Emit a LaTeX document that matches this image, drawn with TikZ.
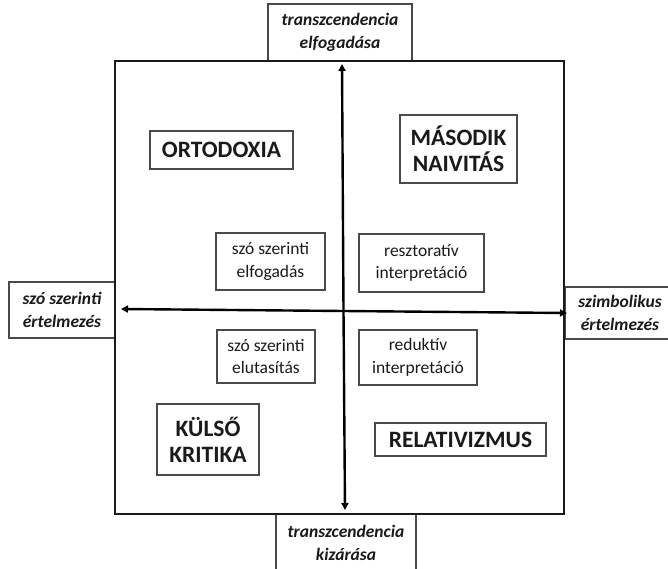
\documentclass[tikz,border=0pt]{standalone}
\usepackage{fontspec}
\setmainfont{Carlito}
\usetikzlibrary{arrows.meta}
\definecolor{boxgray}{HTML}{4A4A4A}
\definecolor{ink}{HTML}{1A1A1A}
\tikzset{
  quadbox/.style={draw=boxgray, line width=1.4pt, rectangle, align=center, inner sep=0pt, text=ink,
    font=\fontsize{23.5}{26}\selectfont\bfseries},
  smallbox/.style={draw=boxgray, line width=1.2pt, rectangle, align=center, inner sep=0pt, text=ink,
    font=\fontsize{17.5}{22.5}\selectfont},
  sidebox/.style={draw=boxgray, line width=1.3pt, rectangle, align=center, inner sep=0pt, text=ink,
    font=\fontsize{17.5}{23}\selectfont\bfseries\itshape},
  axis/.style={draw=black, line width=2.4pt, -{Triangle[length=7pt,width=7pt]}}
}
\begin{document}
\begin{tikzpicture}[x=1pt,y=-1pt]
\useasboundingbox (0,0) rectangle (668,569);
\fill[white] (0,0) rectangle (668,569);
% side label boxes (drawn first, square overlaps)
\node[sidebox, minimum width=144pt, minimum height=57pt] (top) at (340,32.5) {transzcendencia\\elfogadása};
\node[sidebox, minimum width=106pt, minimum height=56pt] (left) at (62,310) {szó szerinti\\értelmezés};
\node[sidebox, minimum width=110pt, minimum height=52pt] (right) at (620,313) {szimbolikus\\értelmezés};
\node[sidebox, minimum width=140pt, minimum height=57pt] (bottom) at (346,542.5) {transzcendencia\\kizárása};
% main square
\node[draw=ink, line width=2pt, rectangle, minimum width=449pt, minimum height=453pt, inner sep=0pt] (frame) at (339.5,287.5) {};
% quadrant labels
\node[quadbox, minimum width=143pt, minimum height=38pt] (orto) at (221.5,150) {ORTODOXIA};
\node[quadbox, minimum width=117pt, minimum height=68pt] (masod) at (458.5,149) {MÁSODIK\\NAIVITÁS};
\node[quadbox, minimum width=102pt, minimum height=71pt] (kulso) at (208,439.5) {KÜLSŐ\\KRITIKA};
\node[quadbox, minimum width=171pt, minimum height=33pt] (relat) at (460.5,439.5) {RELATIVIZMUS};
% inner labels
\node[smallbox, minimum width=109pt, minimum height=57pt] (szelf) at (270.5,261.5) {szó szerinti\\elfogadás};
\node[smallbox, minimum width=125pt, minimum height=58pt] (reszt) at (421.5,263) {resztoratív\\interpretáció};
\node[smallbox, minimum width=98pt, minimum height=53pt] (szelut) at (266,356.5) {szó szerinti\\elutasítás};
\node[smallbox, minimum width=118pt, minimum height=55pt] (redukt) at (418,357.5) {reduktív\\interpretáció};
% axes
\coordinate (ctr) at (343.5,311);
\coordinate (ax-top) at (342,64);
\coordinate (ax-bot) at (345,510);
\coordinate (ax-left) at (121,309);
\coordinate (ax-right) at (567,313);
\draw[axis] (ctr) -- (ax-top);
\draw[axis] (ctr) -- (ax-bot);
\draw[axis] (ctr) -- (ax-left);
\draw[axis] (ctr) -- (ax-right);
\end{tikzpicture}
\end{document}
